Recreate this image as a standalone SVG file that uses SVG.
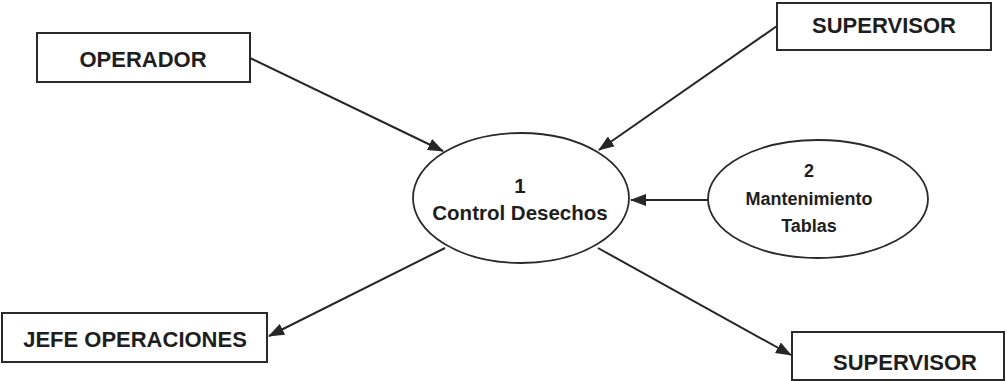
<svg xmlns="http://www.w3.org/2000/svg" width="1007" height="381" viewBox="0 0 1007 381">
  <style>
    .box { fill: #fff; stroke: #2a2a2a; stroke-width: 2; }
    .proc { fill: #fff; stroke: #2a2a2a; stroke-width: 1.8; }
    .lbl { font-family: "Liberation Sans", Arial, sans-serif; font-weight: bold; fill: #1e1e1e; text-anchor: middle; }
    .ext { font-size: 22px; }
    .p1 { font-size: 20.5px; }
    .p2 { font-size: 18px; }
    .flow { stroke: #262626; stroke-width: 2; fill: none; marker-end: url(#head); }
  </style>
  <defs>
    <marker id="head" viewBox="0 0 16 12" refX="15" refY="6" markerWidth="16" markerHeight="12" markerUnits="userSpaceOnUse" orient="auto">
      <path d="M0,0 L16,6 L0,12 Z" fill="#262626"/>
    </marker>
  </defs>

  <g id="connectors">
    <line class="flow" x1="250" y1="58" x2="443" y2="151"/>
    <line class="flow" x1="777" y1="26" x2="599" y2="150"/>
    <line class="flow" x1="708" y1="200" x2="631" y2="200"/>
    <line class="flow" x1="445" y1="248" x2="269" y2="336"/>
    <line class="flow" x1="598" y1="248" x2="791" y2="355"/>
  </g>

  <g id="operador">
    <rect class="box" x="37" y="33" width="213" height="49"/>
    <text class="lbl ext" x="143" y="67">OPERADOR</text>
  </g>

  <g id="supervisor-top">
    <rect class="box" x="777" y="3" width="214" height="47"/>
    <text class="lbl ext" x="884" y="33">SUPERVISOR</text>
  </g>

  <g id="proc-1">
    <ellipse class="proc" cx="521" cy="198" rx="108" ry="65"/>
    <text class="lbl p1" x="520" y="193">1</text>
    <text class="lbl p1" x="520" y="220">Control Desechos</text>
  </g>

  <g id="proc-2">
    <ellipse class="proc" cx="818" cy="199" rx="110" ry="59"/>
    <text class="lbl p2" x="809" y="177">2</text>
    <text class="lbl p2" x="809" y="205">Mantenimiento</text>
    <text class="lbl p2" x="809" y="232">Tablas</text>
  </g>

  <g id="jefe-operaciones">
    <rect class="box" x="2" y="313" width="265" height="49"/>
    <text class="lbl ext" x="135" y="347">JEFE OPERACIONES</text>
  </g>

  <g id="supervisor-bottom">
    <rect class="box" x="792" y="332" width="212" height="48"/>
    <text class="lbl ext" x="905" y="370">SUPERVISOR</text>
  </g>
</svg>
